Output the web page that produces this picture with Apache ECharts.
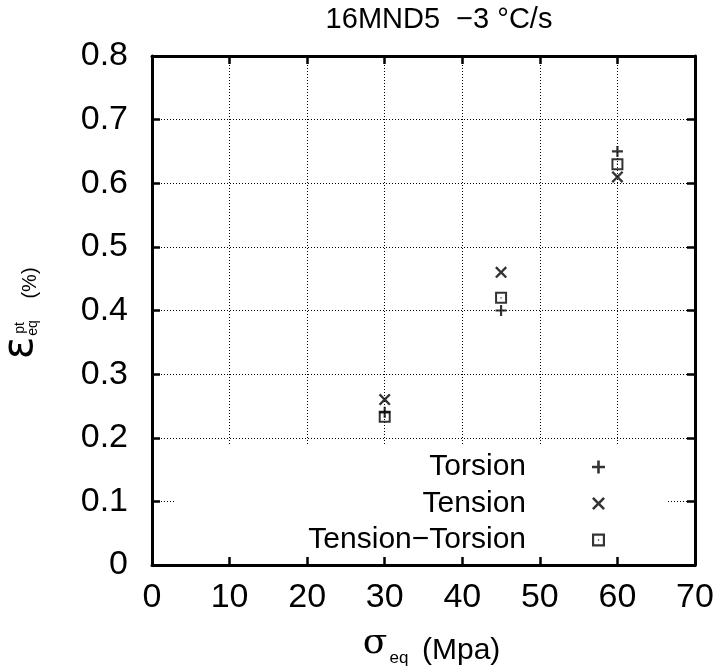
<!DOCTYPE html>
<html>
<head>
<meta charset="utf-8">
<script src="https://cdn.jsdelivr.net/npm/echarts@6/dist/echarts.min.js"></script>
<style>html,body{margin:0;padding:0;background:#fff;}#c{width:717px;height:670px;}</style>
</head>
<body>
<div id="c"></div>
<script>
// ---- data ----
const seriesNames = ['Torsion', 'Tension', 'Tension\u2212Torsion'];
const torsion = [[30, 0.24], [45, 0.40], [60, 0.65]];
const tension = [[30, 0.26], [45, 0.46], [60, 0.61]];
const tensionTorsion = [[30, 0.233], [45, 0.42], [60, 0.63]];
const xTicks = [0, 10, 20, 30, 40, 50, 60, 70];
const yTicks = [0, 0.1, 0.2, 0.3, 0.4, 0.5, 0.6, 0.7, 0.8];
const titleText = '16MND5  \u22123 \u00B0C/s';

// ---- symbols ----
const plusPath = 'path://M4,0 H6 V4 H10 V6 H6 V10 H4 V6 H0 V4 H4 Z';
const crossPath = 'path://M0,1.4 L1.4,0 L5,3.6 L8.6,0 L10,1.4 L6.4,5 L10,8.6 L8.6,10 L5,6.4 L1.4,10 L0,8.6 L3.6,5 Z';
const squarePath = 'path://M0,0 H12 V12 H0 Z M2,2 V10 H10 V2 Z M5.4,5.4 H6.6 V6.6 H5.4 Z';

const FONT = '"Liberation Sans", Arial, Helvetica, sans-serif';
const chart = echarts.init(document.getElementById('c'));

const tickStyle = { show: true, inside: true, length: 8, lineStyle: { color: '#000', width: 2.5 } };
const lineStyleAxis = { show: true, onZero: false, lineStyle: { color: '#000', width: 3 } };

chart.setOption({
  animation: false,
  backgroundColor: '#fff',
  title: {
    text: titleText, left: 434, top: 0, textAlign: 'center',
    textStyle: { fontFamily: FONT, fontSize: 29, fontWeight: 'normal', color: '#000' }
  },
  grid: { left: 152, right: 22, top: 56, bottom: 105, show: false },
  xAxis: [{
    type: 'value', min: xTicks[0], max: xTicks[xTicks.length - 1], interval: 10,
    axisLine: lineStyleAxis, axisTick: tickStyle,
    axisLabel: { margin: 16, fontFamily: FONT, fontSize: 34, color: '#000' },
    splitLine: { show: true, lineStyle: { color: '#000', width: 1, type: [1, 2] } }
  }, {
    type: 'value', position: 'top', min: xTicks[0], max: xTicks[xTicks.length - 1], interval: 10,
    axisLine: lineStyleAxis, axisTick: tickStyle, axisLabel: { show: false }, splitLine: { show: false }
  }],
  yAxis: [{
    type: 'value', min: yTicks[0], max: yTicks[yTicks.length - 1], interval: 0.1,
    axisLine: lineStyleAxis, axisTick: tickStyle,
    axisLabel: {
      margin: 24, fontFamily: FONT, fontSize: 34, color: '#000',
      formatter: v => (Math.abs(v) < 1e-9 ? '0' : v.toFixed(1))
    },
    splitLine: { show: true, lineStyle: { color: '#000', width: 1, type: [1, 2] } }
  }, {
    type: 'value', position: 'right', min: yTicks[0], max: yTicks[yTicks.length - 1], interval: 0.1,
    axisLine: lineStyleAxis, axisTick: tickStyle, axisLabel: { show: false }, splitLine: { show: false }
  }],
  legend: {
    orient: 'vertical', align: 'right', right: 49, top: 444,
    backgroundColor: '#fff',
    padding: [8, 63, 0, 133],
    itemGap: 6.5, itemWidth: 13, itemHeight: 13,
    textStyle: { fontFamily: FONT, fontSize: 30, color: '#000', width: 300, align: 'right', padding: [0, 61, 0, 0] },
    data: seriesNames
  },
  series: [
    { name: seriesNames[0], type: 'scatter', data: torsion, symbol: plusPath, symbolSize: 11, itemStyle: { color: '#000' }, z: 3 },
    { name: seriesNames[1], type: 'scatter', data: tension, symbol: crossPath, symbolSize: 12, itemStyle: { color: '#000' }, z: 3 },
    { name: seriesNames[2], type: 'scatter', data: tensionTorsion, symbol: squarePath, symbolSize: 12, itemStyle: { color: '#000' }, z: 3 }
  ],
  graphic: [
    {
      type: 'group', x: 28, y: 312, rotation: Math.PI / 2,
      children: [
        { type: 'text', x: -36, y: -7, style: { text: '\u03B5', fontFamily: '"DejaVu Sans", sans-serif', fontSize: 42, align: 'center', verticalAlign: 'middle', fill: '#000' } },
        { type: 'text', x: -16, y: -8, style: { text: 'pt', fontFamily: FONT, fontSize: 14, align: 'center', verticalAlign: 'middle', fill: '#000' } },
        { type: 'text', x: -16, y: 5, style: { text: 'eq', fontFamily: FONT, fontSize: 14, align: 'center', verticalAlign: 'middle', fill: '#000' } },
        { type: 'text', x: 29, y: 2, style: { text: '(%)', fontFamily: FONT, fontSize: 20, align: 'center', verticalAlign: 'middle', fill: '#000' } }
      ]
    },
    { type: 'text', x: 375, y: 644, style: { text: '\u03C3', fontFamily: '"DejaVu Serif", serif', fontSize: 36, align: 'center', verticalAlign: 'middle', fill: '#000' } },
    { type: 'text', x: 399, y: 658, style: { text: 'eq', fontFamily: FONT, fontSize: 17, align: 'center', verticalAlign: 'middle', fill: '#000' } },
    { type: 'text', x: 422, y: 651, style: { text: '(Mpa)', fontFamily: FONT, fontSize: 30, align: 'left', verticalAlign: 'middle', fill: '#000' } }
  ]
});
</script>
</body>
</html>
